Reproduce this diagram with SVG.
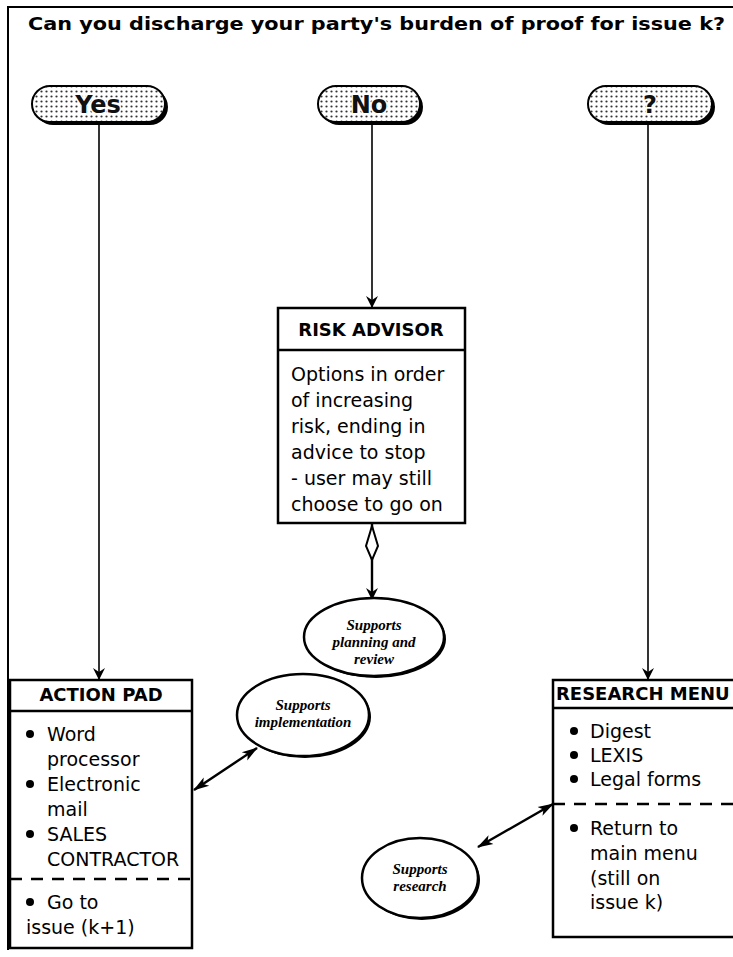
<svg xmlns="http://www.w3.org/2000/svg" width="733" height="957" viewBox="0 0 733 957">
<defs>
<pattern id="dots" width="5" height="5" patternUnits="userSpaceOnUse">
<rect width="5" height="5" fill="#fff"/>
<circle cx="1.5" cy="1.5" r="1.1" fill="#333"/>
</pattern>
<marker id="ah" viewBox="0 0 12 20" refX="11" refY="10" markerWidth="12" markerHeight="20" markerUnits="userSpaceOnUse" orient="auto-start-reverse">
<path d="M0,4 L12,10 L0,16 L4,10 Z" fill="#000"/>
</marker>
<marker id="ahs" viewBox="0 0 16 12" refX="15" refY="6" markerWidth="16" markerHeight="12" markerUnits="userSpaceOnUse" orient="auto-start-reverse">
<path d="M0,1 L16,6 L0,11 L4,6 Z" fill="#000"/>
</marker>
</defs>
<style>
.frame{fill:none;stroke:#000;stroke-width:2}
.box{fill:#fff;stroke:#000;stroke-width:2.5}
.div{stroke:#000;stroke-width:2.5}
.dash{stroke:#000;stroke-width:2.5;stroke-dasharray:12,9}
.pill{fill:url(#dots);stroke:#000;stroke-width:2}
.shadow{fill:#000}
.ptxt{font-family:"DejaVu Sans",sans-serif;font-weight:bold;font-size:24px;fill:#111;stroke:#fff;stroke-width:3;paint-order:stroke;text-anchor:middle}
.title{font-family:"DejaVu Sans",sans-serif;font-weight:bold;font-size:17px;fill:#000}
.hdr{font-family:"DejaVu Sans",sans-serif;font-weight:bold;font-size:18px;fill:#000}
.body{font-family:"DejaVu Sans",sans-serif;font-size:19px;fill:#000}
.ell{fill:#fff;stroke:#000;stroke-width:2.5}
.etxt{font-family:"Liberation Serif",serif;font-weight:bold;font-style:italic;font-size:15px;fill:#000;text-anchor:middle}
.conn{stroke:#000;stroke-width:1.6;fill:none}
.conn2{stroke:#000;stroke-width:2.4;fill:none}
</style>
<rect width="733" height="957" fill="#fff"/>
<path class="frame" d="M8,950 L8,7 L733,7"/>
<text class="title" x="28" y="30" textLength="697" lengthAdjust="spacingAndGlyphs">Can you discharge your party's burden of proof for issue k?</text>

<g id="connectors">
<line class="conn" x1="99" y1="123" x2="99" y2="679" marker-end="url(#ah)"/>
<line class="conn" x1="372" y1="123" x2="372" y2="307" marker-end="url(#ah)"/>
<line class="conn" x1="648" y1="123" x2="648" y2="679" marker-end="url(#ah)"/>
<line class="conn2" x1="372" y1="524" x2="372" y2="599" marker-end="url(#ah)"/>
<path d="M372,526 L366,546 L372,560 L378,546 Z" fill="#fff" stroke="#000" stroke-width="2"/>
<line class="conn2" x1="194" y1="790" x2="257" y2="748" marker-start="url(#ahs)" marker-end="url(#ahs)"/>
<line class="conn2" x1="553" y1="804" x2="478" y2="847" marker-start="url(#ahs)" marker-end="url(#ahs)"/>
</g>

<g id="yes">
<rect class="shadow" x="35" y="89" width="133" height="36" rx="18"/>
<rect class="pill" x="32" y="86" width="133" height="36" rx="18"/>
<text class="ptxt" x="98" y="113">Yes</text>
</g>
<g id="no">
<rect class="shadow" x="321" y="89" width="102" height="36" rx="18"/>
<rect class="pill" x="318" y="86" width="102" height="36" rx="18"/>
<text class="ptxt" x="369" y="113">No</text>
</g>
<g id="unknown">
<rect class="shadow" x="591" y="89" width="124" height="36" rx="18"/>
<rect class="pill" x="588" y="86" width="124" height="36" rx="18"/>
<text class="ptxt" x="650" y="113">?</text>
</g>

<g id="risk-advisor">
<rect class="box" x="278" y="308" width="187" height="215"/>
<line class="div" x1="278" y1="350" x2="465" y2="350"/>
<text class="hdr" x="371" y="336" text-anchor="middle">RISK ADVISOR</text>
<text class="body" x="291" y="381">Options in order</text>
<text class="body" x="291" y="407">of increasing</text>
<text class="body" x="291" y="433">risk, ending in</text>
<text class="body" x="291" y="459">advice to stop</text>
<text class="body" x="291" y="485">- user may still</text>
<text class="body" x="291" y="511">choose to go on</text>
</g>

<g id="supports-planning">
<ellipse cx="376" cy="639" rx="70" ry="39" fill="#000"/>
<ellipse class="ell" cx="374" cy="637" rx="70" ry="39"/>
<text class="etxt" x="374" y="630">Supports</text>
<text class="etxt" x="374" y="647">planning and</text>
<text class="etxt" x="374" y="664">review</text>
</g>

<g id="action-pad">
<rect class="box" x="10" y="680" width="182" height="268"/>
<line class="div" x1="10" y1="711" x2="192" y2="711"/>
<text class="hdr" x="101" y="701" text-anchor="middle">ACTION PAD</text>
<circle cx="30" cy="734" r="4"/>
<text class="body" x="47" y="741">Word</text>
<text class="body" x="47" y="766">processor</text>
<circle cx="30" cy="784" r="4"/>
<text class="body" x="47" y="791">Electronic</text>
<text class="body" x="47" y="816">mail</text>
<circle cx="30" cy="834" r="4"/>
<text class="body" x="47" y="841">SALES</text>
<text class="body" x="47" y="866">CONTRACTOR</text>
<line class="dash" x1="10" y1="879" x2="192" y2="879"/>
<circle cx="30" cy="902" r="4"/>
<text class="body" x="47" y="909">Go to</text>
<text class="body" x="26" y="934">issue (k+1)</text>
</g>

<g id="supports-implementation">
<ellipse cx="305" cy="717" rx="66" ry="41" fill="#000"/>
<ellipse class="ell" cx="303" cy="715" rx="66" ry="41"/>
<text class="etxt" x="303" y="710">Supports</text>
<text class="etxt" x="303" y="727">implementation</text>
</g>

<g id="research-menu">
<rect class="box" x="553" y="680" width="190" height="257"/>
<line class="div" x1="553" y1="708" x2="733" y2="708"/>
<text class="hdr" x="556" y="700">RESEARCH MENU</text>
<circle cx="574" cy="731" r="4"/>
<text class="body" x="590" y="738">Digest</text>
<circle cx="574" cy="755" r="4"/>
<text class="body" x="590" y="762">LEXIS</text>
<circle cx="574" cy="779" r="4"/>
<text class="body" x="590" y="786">Legal forms</text>
<line class="dash" x1="553" y1="804" x2="733" y2="804"/>
<circle cx="574" cy="828" r="4"/>
<text class="body" x="590" y="835">Return to</text>
<text class="body" x="590" y="860">main menu</text>
<text class="body" x="590" y="885">(still on</text>
<text class="body" x="590" y="909">issue k)</text>
</g>

<g id="supports-research">
<ellipse cx="422" cy="880" rx="58" ry="40" fill="#000"/>
<ellipse class="ell" cx="420" cy="878" rx="58" ry="40"/>
<text class="etxt" x="420" y="874">Supports</text>
<text class="etxt" x="420" y="891">research</text>
</g>
</svg>
